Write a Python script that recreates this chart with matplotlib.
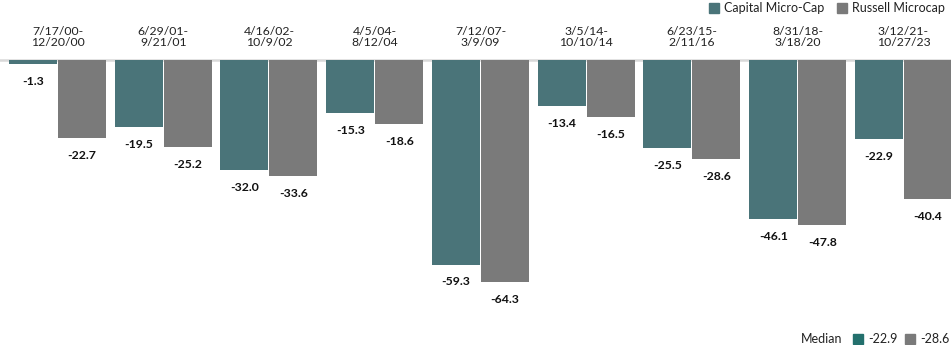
import matplotlib.pyplot as plt
import numpy as np

periods = ["7/17/00-\n12/20/00", "6/29/01-\n9/21/01", "4/16/02-\n10/9/02",
           "4/5/04-\n8/12/04", "7/12/07-\n3/9/09", "3/5/14-\n10/10/14",
           "6/23/15-\n2/11/16", "8/31/18-\n3/18/20", "3/12/21-\n10/27/23"]
capital = [-1.3, -19.5, -32.0, -15.3, -59.3, -13.4, -25.5, -46.1, -22.9]
russell = [-22.7, -25.2, -33.6, -18.6, -64.3, -16.5, -28.6, -47.8, -40.4]
median_capital = -22.9
median_russell = -28.6

TEAL = "#4a7479"
GRAY = "#7a7a7a"
TEAL_KEY = "#23706d"
FONT = "Lato"

W, H = 951, 345
fig = plt.figure(figsize=(W / 100, H / 100), dpi=100)
plt.rcParams["font.family"] = [FONT, "DejaVu Sans"]

# axes spans the full width; zero sits at y=60px, 3.45 px per unit
px_per_unit = 3.45
zero_px = 60
ax = fig.add_axes([0, 0, 1, (H - zero_px) / H])
ax.set_ylim(-(H - zero_px) / px_per_unit, 0)
group_px = 105.75
left = -0.5 - 4.6 / group_px
ax.set_xlim(left, left + W / group_px)
ax.axis("off")

x = np.arange(len(periods))
bw = 48 / group_px
off = 24.5 / group_px
ax.bar(x - off, capital, bw, color=TEAL, zorder=2)
ax.bar(x + off, russell, bw, color=GRAY, zorder=2)
ax.axhline(0, color="#d9d9d9", lw=1.8, zorder=1, clip_on=False)

for xi, v in zip(x - off, capital):
    ax.annotate(f"{v:.1f}", (xi, v), xytext=(0, -12.5), textcoords="offset points",
                ha="center", va="center", fontsize=8.8, fontweight="bold", color="#111111")
for xi, v in zip(x + off, russell):
    ax.annotate(f"{v:.1f}", (xi, v), xytext=(0, -12.5), textcoords="offset points",
                ha="center", va="center", fontsize=8.8, fontweight="bold", color="#111111")

# period labels just above the zero line
for xi, lab in zip(x, periods):
    ax.annotate(lab, (xi, 0), xytext=(0, 16.5), textcoords="offset points",
                ha="center", va="center", fontsize=8.8, color="#222222",
                linespacing=1.0, annotation_clip=False)


def key(xp, yp, color, text):
    fig.patches.append(plt.Rectangle((xp / W, 1 - (yp + 5) / H), 10 / W, 10 / H,
                                     color=color, transform=fig.transFigure))
    fig.text((xp + 15) / W, 1 - yp / H, text, ha="left", va="center",
             fontsize=9, color="#222222")


key(709, 8, TEAL, "Capital Micro-Cap")
key(837, 8, GRAY, "Russell Microcap")

fig.text(842 / W, 1 - 339 / H, "Median", ha="right", va="center", fontsize=9, color="#222222")
key(853, 339, TEAL_KEY, f"{median_capital:.1f}")
key(905, 339, GRAY, f"{median_russell:.1f}")

fig.savefig("out.png", dpi=100)
